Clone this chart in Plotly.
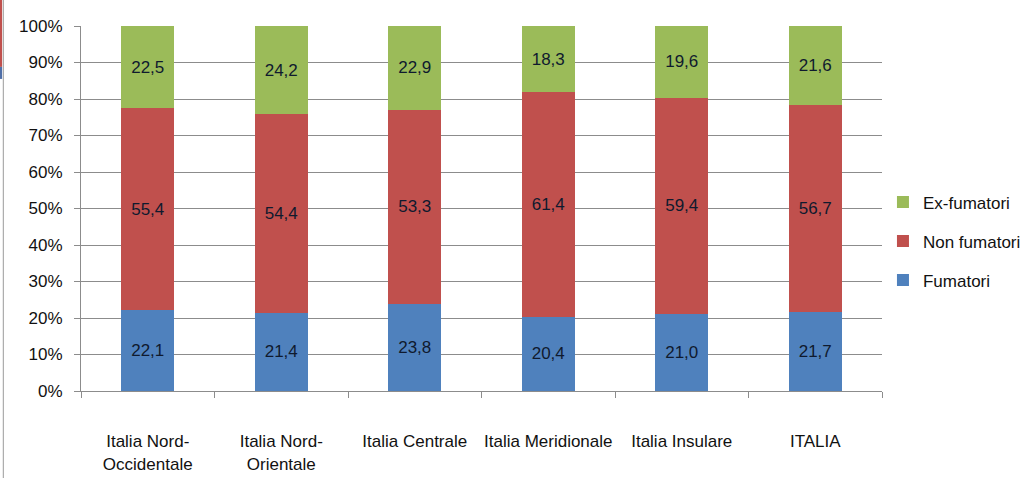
import plotly.graph_objects as go

categories = ["Italia Nord-<br>Occidentale", "Italia Nord-<br>Orientale", "Italia Centrale",
              "Italia Meridionale", "Italia Insulare", "ITALIA"]
fumatori = [22.1, 21.4, 23.8, 20.4, 21.0, 21.7]
non_fumatori = [55.4, 54.4, 53.3, 61.4, 59.4, 56.7]
ex_fumatori = [22.5, 24.2, 22.9, 18.3, 19.6, 21.6]
y_ticks = [0, 10, 20, 30, 40, 50, 60, 70, 80, 90, 100]
y_tick_labels = [f"{v}%" for v in y_ticks]

FONT = "Liberation Sans, Arial, sans-serif"


def fmt(values):
    return [f"{v:.1f}".replace(".", ",") for v in values]


# (name, values, colour, legend rank) - stacked bottom to top, listed top to bottom in legend
series = [
    ("Fumatori", fumatori, "#4F81BD", 3),
    ("Non fumatori", non_fumatori, "#C0504D", 2),
    ("Ex-fumatori", ex_fumatori, "#9BBB59", 1),
]

fig = go.Figure()
for name, vals, color, rank in series:
    fig.add_trace(go.Bar(
        x=categories, y=vals, name=name, legendgroup=name, legendrank=rank,
        marker=dict(color=color, line=dict(width=0)),
        text=fmt(vals), textposition="inside", insidetextanchor="middle",
        textfont=dict(family=FONT, size=17, color="#0f1a2e"),
        constraintext="none",
    ))

fig.update_layout(
    barmode="stack",
    bargap=0.60,
    width=1027, height=478,
    margin=dict(l=81, r=145, t=26, b=87, autoexpand=False),
    paper_bgcolor="white", plot_bgcolor="white",
    font=dict(family=FONT, size=17, color="#111111"),
    legend=dict(
        x=1.0012, xanchor="left", y=0.41, yanchor="middle",
        traceorder="grouped", tracegroupgap=14,
        font=dict(family=FONT, size=17, color="#111111"),
        itemwidth=30,
    ),
    xaxis=dict(
        showline=True, linecolor="#8c8c8c", linewidth=1,
        ticks="outside", tickson="boundaries", ticklen=6, tickcolor="#8c8c8c",
        tickangle=0, ticklabelstandoff=35, automargin=False,
        tickfont=dict(family=FONT, size=17, color="#111111"),
        showgrid=False,
    ),
    yaxis=dict(
        range=[0, 100], tickvals=y_ticks, ticktext=y_tick_labels,
        showline=True, linecolor="#8c8c8c", linewidth=1,
        ticks="outside", ticklen=6, tickcolor="#8c8c8c", ticklabelstandoff=8,
        automargin=False,
        showgrid=True, gridcolor="#8c8c8c", gridwidth=1,
        tickfont=dict(family=FONT, size=17, color="#111111"),
        zeroline=False,
    ),
    shapes=[
        dict(type="line", xref="paper", yref="paper", x0=-0.097, x1=-0.097,
             y0=-0.24, y1=1.075, line=dict(color="#9a9a9a", width=1)),
        dict(type="rect", xref="paper", yref="paper", x0=-0.1012, x1=-0.0985,
             y0=0.888, y1=1.075, fillcolor="#c0504d", line=dict(width=0)),
        dict(type="rect", xref="paper", yref="paper", x0=-0.1012, x1=-0.0985,
             y0=0.855, y1=0.888, fillcolor="#4f6fa8", line=dict(width=0)),
    ],
)

fig.write_html("out.html")
